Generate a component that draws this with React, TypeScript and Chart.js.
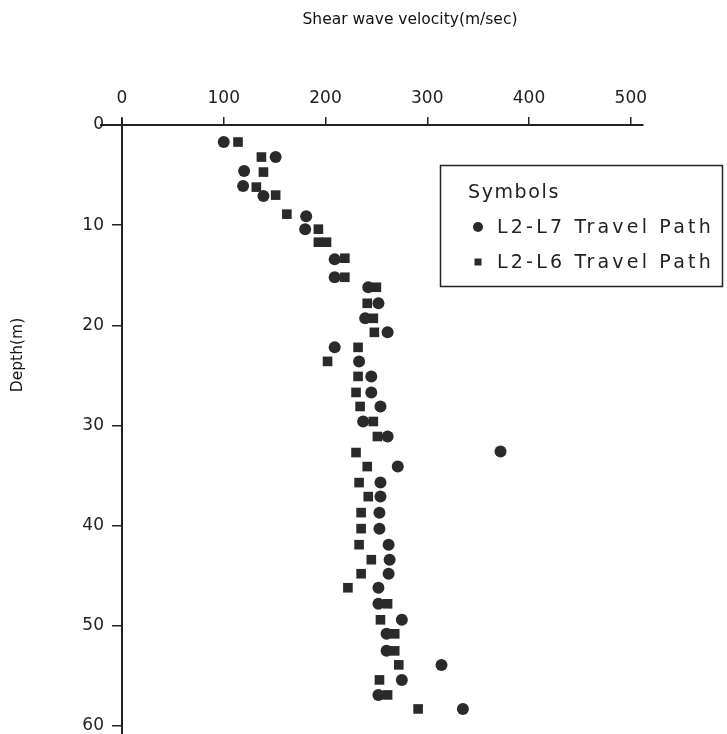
import React, { useEffect, useRef } from 'react';
import { Chart, registerables } from 'chart.js';

Chart.register(...registerables);

// L2-L7 travel path (circles)
const l7Depth = [1.7, 3.2, 4.6, 6.1, 7.1, 9.1, 10.4, 13.4, 15.2, 16.2, 17.8, 19.3, 20.7, 22.2, 23.6, 25.1, 26.7, 28.1, 29.6, 31.1, 32.6, 34.1, 35.7, 37.1, 38.7, 40.3, 41.9, 43.4, 44.8, 46.2, 47.8, 49.4, 50.8, 52.5, 53.9, 55.4, 56.9, 58.3];
const l7Velocity = [100, 151, 120, 119, 139, 181, 180, 209, 209, 242, 252, 239, 261, 209, 233, 245, 245, 254, 237, 261, 372, 271, 254, 254, 253, 253, 262, 263, 262, 252, 252, 275, 260, 260, 314, 275, 252, 335];

// L2-L6 travel path (squares)
const l6Depth = [1.7, 3.2, 4.7, 6.2, 7.0, 8.9, 10.4, 11.7, 11.7, 13.3, 15.2, 16.2, 17.8, 19.3, 20.7, 22.2, 23.6, 25.1, 26.7, 28.1, 29.6, 31.1, 32.7, 34.1, 35.7, 37.1, 38.7, 40.3, 41.9, 43.4, 44.8, 46.2, 47.8, 49.4, 50.8, 52.5, 53.9, 55.4, 56.9, 58.3];
const l6Velocity = [114, 137, 139, 132, 151, 162, 193, 193, 201, 219, 219, 250, 241, 247, 248, 232, 202, 232, 230, 234, 247, 251, 230, 241, 233, 242, 235, 235, 233, 245, 235, 222, 261, 254, 268, 268, 272, 253, 261, 291];

const seriesNames = ['L2-L7 Travel Path', 'L2-L6 Travel Path'];
const legendTitle = 'Symbols';
const xTitle = 'Shear wave velocity(m/sec)';
const yTitle = 'Depth(m)';
const xRange = [0, 512];
const yRange = [0, 60.8];
const tickStep = { x: 100, y: 10 };

const INK = '#222222';
const MARK = '#2a2a2a';

const overlayPlugin = {
  id: 'overlayPlugin',
  afterDraw(chart: any) {
    const ctx = chart.ctx as CanvasRenderingContext2D;
    const { left, top } = chart.chartArea;
    ctx.save();
    // axis line extensions
    ctx.strokeStyle = INK;
    ctx.lineWidth = 2;
    ctx.beginPath();
    ctx.moveTo(left - 22, top);
    ctx.lineTo(left, top);
    ctx.moveTo(left, top - 7);
    ctx.lineTo(left, top);
    ctx.stroke();

    // axis titles
    ctx.fillStyle = '#111';
    ctx.font = '15.5px "DejaVu Sans"';
    ctx.textAlign = 'center';
    ctx.textBaseline = 'middle';
    ctx.fillText(xTitle, 410, 20);
    ctx.save();
    ctx.translate(18, 355);
    ctx.rotate(-Math.PI / 2);
    ctx.fillText(yTitle, 0, 0);
    ctx.restore();

    // legend box
    ctx.lineWidth = 1.5;
    ctx.strokeStyle = INK;
    ctx.strokeRect(440.5, 165.5, 282, 121);
    ctx.fillStyle = INK;
    ctx.textAlign = 'left';
    ctx.font = '19px "DejaVu Sans"';
    (ctx as any).letterSpacing = '1.6px';
    ctx.fillText(legendTitle, 468, 193);
    (ctx as any).letterSpacing = '3.2px';
    ctx.fillText(seriesNames[0], 497, 228);
    ctx.fillText(seriesNames[1], 497, 263);
    (ctx as any).letterSpacing = '0px';
    ctx.fillStyle = MARK;
    ctx.beginPath();
    ctx.arc(478, 227, 5, 0, Math.PI * 2);
    ctx.fill();
    ctx.fillRect(474.5, 258.5, 7, 7);
    ctx.restore();
  },
};

export default function App() {
  const ref = useRef<HTMLCanvasElement | null>(null);

  useEffect(() => {
    if (!ref.current) return;
    const chart = new Chart(ref.current, {
      type: 'scatter',
      data: {
        datasets: [
          {
            label: seriesNames[0],
            data: l7Velocity.map((v, i) => ({ x: v, y: l7Depth[i] })),
            pointStyle: 'circle',
            pointRadius: 6,
            backgroundColor: MARK,
            borderColor: MARK,
            borderWidth: 0,
          },
          {
            label: seriesNames[1],
            data: l6Velocity.map((v, i) => ({ x: v, y: l6Depth[i] })),
            pointStyle: 'rect',
            pointRadius: 6.8,
            backgroundColor: MARK,
            borderColor: MARK,
            borderWidth: 0,
          },
        ],
      },
      options: {
        responsive: false,
        animation: false,
        layout: { autoPadding: false, padding: { left: 0, top: 0, right: 84, bottom: 0 } },
        plugins: {
          legend: { display: false },
          tooltip: { enabled: false },
          title: { display: false },
        },
        scales: {
          x: {
            type: 'linear',
            position: 'top',
            min: xRange[0],
            max: xRange[1],
            ticks: {
              stepSize: tickStep.x,
              includeBounds: false,
              color: INK,
              font: { family: '"DejaVu Sans"', size: 17 },
              padding: 8,
              maxRotation: 0,
            },
            grid: {
              display: true,
              drawOnChartArea: false,
              drawTicks: true,
              tickLength: 8,
              color: INK,
              lineWidth: 1.5,
            },
            border: { display: true, color: INK, width: 2 },
            afterFit: (scale: any) => {
              scale.height = 125;
              scale.paddingLeft = 0;
              scale.paddingRight = 0;
            },
          },
          y: {
            type: 'linear',
            reverse: true,
            min: yRange[0],
            max: yRange[1],
            ticks: {
              stepSize: tickStep.y,
              includeBounds: false,
              color: INK,
              font: { family: '"DejaVu Sans"', size: 17 },
              padding: 8,
            },
            grid: {
              display: true,
              drawOnChartArea: false,
              drawTicks: true,
              tickLength: 10,
              color: INK,
              lineWidth: 1.5,
            },
            border: { display: true, color: INK, width: 2 },
            afterFit: (scale: any) => {
              scale.width = 122;
              scale.paddingTop = 0;
              scale.paddingBottom = 0;
            },
          },
        },
      },
      plugins: [overlayPlugin],
    });
    return () => chart.destroy();
  }, []);

  return (
    <div style={{ position: 'absolute', left: 0, top: 0, width: 727, height: 734, background: '#fff' }}>
      <canvas ref={ref} width={727} height={734} style={{ display: 'block' }} />
    </div>
  );
}
